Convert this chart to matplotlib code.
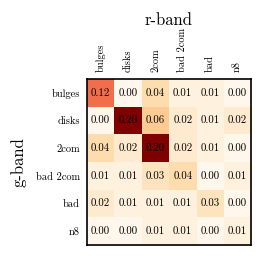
import matplotlib
matplotlib.use("Agg")
import matplotlib.pyplot as plt
import numpy as np

plt.rcParams['font.family'] = 'serif'
plt.rcParams['font.serif'] = ['cmr10', 'DejaVu Serif']
plt.rcParams['axes.formatter.use_mathtext'] = True

categories = ["bulges", "disks", "2com", "bad 2com", "bad", "n8"]
values = np.array([
    [0.12, 0.00, 0.04, 0.01, 0.01, 0.00],
    [0.00, 0.20, 0.06, 0.02, 0.01, 0.02],
    [0.04, 0.02, 0.20, 0.02, 0.01, 0.00],
    [0.01, 0.01, 0.03, 0.04, 0.00, 0.01],
    [0.02, 0.01, 0.01, 0.01, 0.03, 0.00],
    [0.00, 0.00, 0.01, 0.01, 0.00, 0.01],
])

fig = plt.figure(figsize=(2.66, 2.66), dpi=100)
ax = fig.add_axes([0.327, 0.079, 0.617, 0.624])
ax.imshow(values, cmap='OrRd', vmin=0, vmax=0.2, aspect='auto')
for i in range(values.shape[0]):
    for j in range(values.shape[1]):
        ax.text(j, i, f"{values[i, j]:.2f}", ha='center', va='center', fontsize=7.8, color='black')

ax.set_xticks(range(len(categories)))
ax.set_yticks(range(len(categories)))
ax.set_xticklabels(categories, rotation=90, fontsize=7.5)
ax.set_yticklabels(categories, fontsize=7.5)
ax.xaxis.tick_top()
ax.tick_params(length=0, pad=5)
for s in ax.spines.values():
    s.set_linewidth(1.2)
ax.set_title("r-band", fontsize=12, pad=1.5)
ax.xaxis.set_label_position('top')
ax.set_ylabel("g-band", fontsize=12, labelpad=7)

fig.savefig("out.png", dpi=100)
